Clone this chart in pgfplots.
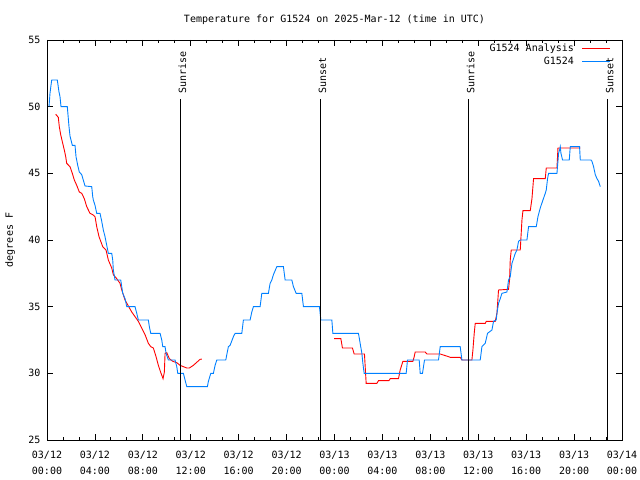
\documentclass[border=0pt]{standalone}
\usepackage{pgfplots}
\pgfplotsset{compat=1.18}
\usepackage{fontspec}
\setmainfont{DejaVu Sans Mono}
\definecolor{obsblue}{RGB}{0,128,255}
\definecolor{anared}{RGB}{255,0,0}
\begin{document}
\fontsize{10bp}{12bp}\selectfont
\begin{tikzpicture}
\useasboundingbox (-47bp,-40bp) rectangle (593bp,440bp);
\begin{axis}[
  at={(0,0)}, anchor=south west,
  scale only axis, width=575bp, height=400bp,
  xmin=0, xmax=48, ymin=25, ymax=55,
  xtick={0,4,...,48},
  xticklabels={{03/12\\00:00},{03/12\\04:00},{03/12\\08:00},{03/12\\12:00},{03/12\\16:00},{03/12\\20:00},{03/13\\00:00},{03/13\\04:00},{03/13\\08:00},{03/13\\12:00},{03/13\\16:00},{03/13\\20:00},{03/14\\00:00}},
  minor x tick num=2,
  ytick={25,30,...,55},
  tick align=inside,
  major tick length=6bp, minor tick length=3bp,
  axis line style={line width=0.8bp},
  tick style={line width=0.8bp, black},
  xticklabel style={align=center, font=\fontsize{10bp}{16bp}\selectfont, yshift=-8bp},
  yticklabel style={xshift=-3bp},
  /pgf/number format/assume math mode=true,
  every axis title/.style={at={(0.5,1)}, anchor=base, yshift=17bp},
  title={Temperature for G1524 on 2025-Mar-12 (time in UTC)},
  every axis y label/.style={at={(axis description cs:-0.0643,0.5)}, rotate=90, anchor=center},
  ylabel={degrees F},
  unbounded coords=jump,
  legend plot pos=right,
  legend cell align=right,
  legend image code/.code={\path (0bp,0bp); \draw[#1] (6bp,0bp) -- (34bp,0bp);},
  legend style={draw=none, fill=none, at={(1,1)}, anchor=north east, xshift=-9bp, yshift=0bp, row sep=0bp, inner sep=2bp},
]
\addplot[anared, line width=0.9bp] coordinates {
(0.727,49.43) (0.944,49.2) (1.027,48.5) (1.144,47.9) (1.311,47.25) (1.445,46.75) (1.562,46.25) (1.645,45.75) (1.921,45.5) (2.113,45.0) (2.28,44.5) (2.481,44.1) (2.698,43.6) (2.898,43.5) (3.115,43.1) (3.316,42.5) (3.591,42.0) (3.817,41.9) (4.009,41.75) (4.151,41.0) (4.343,40.25) (4.652,39.5) (4.928,39.25) (5.12,38.5) (5.404,37.9) (5.537,37.4) (5.822,37.1) (6.097,36.75) (6.239,36.25) (6.515,35.5) (6.79,35.05) (7.074,34.6) (7.35,34.25) (7.626,33.9) (7.909,33.4) (8.185,32.9) (8.461,32.25) (8.661,32.0) (8.878,31.9) (9.104,31.25) (9.296,30.6) (9.521,30.0) (9.688,29.6) (9.797,30.1) (9.856,31.5) (9.997,31.55) (10.215,31.1) (10.499,30.9) (10.833,30.8) (11.108,30.6) (11.384,30.5) (11.668,30.4) (11.885,30.4) (12.219,30.6) (12.779,31.05) (12.921,31.07)
(13.5,nan)
(23.971,32.6) (24.530,32.6) (24.664,31.9) (25.499,31.9) (25.641,31.45) (26.501,31.45) (26.643,29.25) (27.537,29.25) (27.671,29.45) (28.54,29.45) (28.648,29.6) (29.341,29.6) (29.483,30.25) (29.709,30.9) (30.544,30.9) (30.653,31.25) (30.736,31.6) (31.571,31.6) (31.713,31.45) (32.824,31.45) (33.517,31.25) (33.659,31.2) (34.494,31.2) (34.636,31.0) (35.471,31.0) (35.555,31.75) (35.663,33.0) (35.747,33.75) (36.582,33.75) (36.666,33.9) (37.418,33.9) (37.56,34.5) (37.693,36.25) (38.529,36.3) (38.612,37.0) (38.671,38.5) (38.754,39.25) (39.506,39.25) (39.648,41.5) (39.731,42.2) (40.341,42.2) (40.483,43.1) (40.617,44.6) (41.594,44.6) (41.677,45.4) (42.57,45.4) (42.653,46.9) (44.516,46.9)
};
\addlegendentry{G1524 Analysis}
\addplot[obsblue, line width=0.9bp] coordinates {
(0.167,50.0) (0.25,51.0) (0.334,51.6) (0.393,52) (0.86,52) (1.002,51.1) (1.086,50.75) (1.169,50) (1.695,50) (1.837,48.5) (1.921,47.8) (2.113,47.1) (2.339,47.1) (2.422,46.25) (2.564,45.6) (2.698,45.1) (2.898,44.9) (3.174,44.05) (3.733,44) (3.817,43.25) (3.867,43) (4.009,42.6) (4.151,42) (4.427,42) (4.569,41.4) (4.702,40.75) (4.844,40.25) (4.986,39.6) (5.12,39) (5.404,39) (5.487,38.5) (5.537,37.75) (5.679,37) (6.155,37) (6.323,36) (6.515,35.6) (6.657,35) (7.35,35) (7.492,34.5) (7.626,34) (8.461,34) (8.544,33.5) (8.661,33) (9.438,33) (9.58,32.5) (9.663,32) (9.856,32) (9.939,31.5) (10.131,31) (10.691,31) (10.833,30.5) (10.916,30) (11.384,30) (11.526,29.5) (11.668,29) (13.389,29) (13.473,29.4) (13.673,30) (13.89,30) (14.032,30.6) (14.174,31) (14.925,31) (15.009,31.4) (15.143,32) (15.285,32.1) (15.56,32.75) (15.702,33) (16.262,33) (16.395,34) (16.955,34) (17.097,34.6) (17.23,35) (17.79,35) (17.932,36) (18.483,36) (18.625,36.75) (18.767,37) (18.901,37.4) (19.185,38) (19.736,38) (19.878,37) (20.438,37) (20.571,36.5) (20.797,36) (21.273,36) (21.407,35) (22.743,35) (22.86,34) (23.779,34) (23.862,33) (26.0,33) (26.142,32.25) (26.284,31.5) (26.368,30.75) (26.476,30) (29.984,30) (30.093,31) (31.07,31) (31.154,30) (31.346,30) (31.513,31) (32.682,31) (32.824,32) (34.494,32) (34.636,31) (36.165,31) (36.307,32) (36.582,32.25) (36.775,33) (37.142,33.25) (37.276,33.9) (37.501,34) (37.56,34.5) (37.693,35.25) (37.835,35.6) (37.977,36) (38.395,36.1) (38.529,37) (38.671,37.25) (38.813,38.25) (38.946,38.6) (39.088,39) (39.23,39.25) (39.364,39.9) (39.506,40) (40.065,40) (40.199,41) (40.842,41) (40.984,41.75) (41.176,42.4) (41.401,43) (41.594,43.5) (41.677,43.75) (41.785,44.6) (41.869,45) (42.57,45) (42.653,45.9) (42.704,46.5) (42.787,46.75) (42.846,47) (42.904,46.5) (43.038,46) (43.598,46) (43.681,47) (44.458,47) (44.516,46) (45.41,46) (45.493,45.9) (45.627,45.5) (45.769,44.9) (45.911,44.6) (46.044,44.4) (46.186,44.0)
};
\addlegendentry{G1524}
\addplot[black, line width=0.8bp, forget plot] coordinates {(11.108,25) (11.108,50.57)};
\addplot[black, line width=0.8bp, forget plot] coordinates {(22.802,25) (22.802,50.57)};
\addplot[black, line width=0.8bp, forget plot] coordinates {(35.171,25) (35.171,50.57)};
\addplot[black, line width=0.8bp, forget plot] coordinates {(46.785,25) (46.785,50.57)};
\node[rotate=90, anchor=base west, inner sep=0pt] at (axis cs:11.609,51.0) {Sunrise};
\node[rotate=90, anchor=base west, inner sep=0pt] at (axis cs:23.303,51.0) {Sunset};
\node[rotate=90, anchor=base west, inner sep=0pt] at (axis cs:35.672,51.0) {Sunrise};
\node[rotate=90, anchor=base west, inner sep=0pt] at (axis cs:47.286,51.0) {Sunset};
\end{axis}
\end{tikzpicture}
\end{document}
